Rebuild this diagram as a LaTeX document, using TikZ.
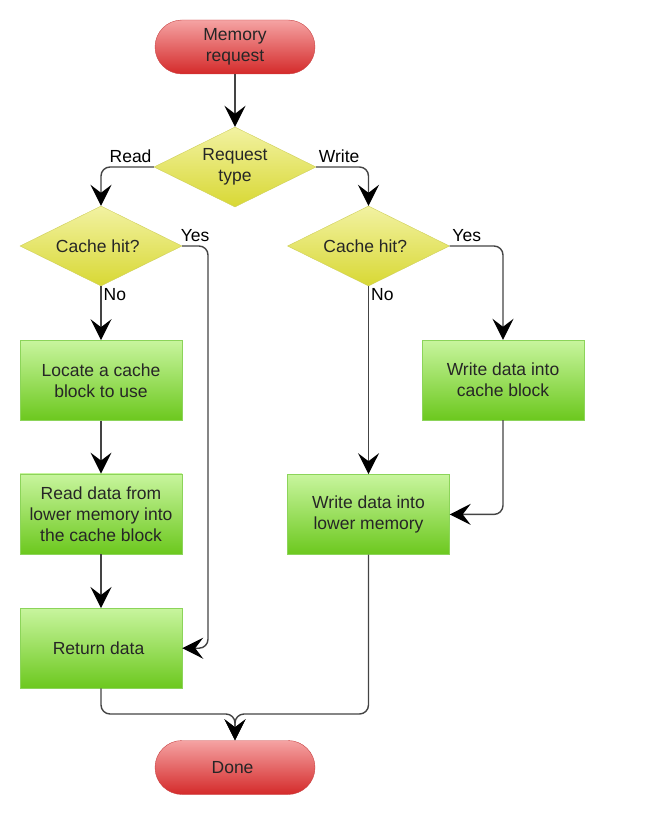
\documentclass[tikz,border=0pt]{standalone}
\usepackage{fontspec}
\setmainfont{Liberation Sans}
\usetikzlibrary{shapes.geometric}
\usetikzlibrary{positioning}
\usetikzlibrary{arrows.meta}

\definecolor{termtop}{HTML}{F5A3A3}
\definecolor{termbot}{HTML}{D42A2A}
\definecolor{termline}{HTML}{C84444}
\definecolor{dectop}{HTML}{F2F2A2}
\definecolor{decbot}{HTML}{D8D834}
\definecolor{decline}{HTML}{CFCF5A}
\definecolor{boxtop}{HTML}{C8F59E}
\definecolor{boxbot}{HTML}{6CC81E}
\definecolor{boxline}{HTML}{8CD45A}
\definecolor{wire}{HTML}{444444}

\begin{document}
\begin{tikzpicture}[
    x=1pt, y=-1pt,
    font=\fontsize{17.5}{21}\selectfont,
    terminal/.style={
        draw=termline,
        top color=termtop,
        bottom color=termbot,
        rounded corners=27pt,
        minimum width=160pt,
        minimum height=54pt,
        inner sep=0pt,
        align=center,
        text=black!85
    },
    decision/.style={
        diamond,
        aspect=2,
        draw=decline,
        top color=dectop,
        bottom color=decbot,
        minimum width=162pt,
        minimum height=80pt,
        inner sep=0pt,
        align=center,
        text=black!85
    },
    box/.style={
        draw=boxline,
        top color=boxtop,
        bottom color=boxbot,
        minimum width=162pt,
        minimum height=80pt,
        inner sep=0pt,
        align=center,
        text=black!85
    },
    arrow/.style={
        -{Stealth[length=21pt,width=21pt,inset=8pt,color=black]},
        draw=wire,
        line width=1.4pt,
        rounded corners=9pt
    }
]

    \useasboundingbox (0,0) rectangle (648,837);

    \node[terminal] (start) at (235,47)
    {
        Memory\\request
    };

    \node[decision] (reqtype) at (235,167)
    {
        Request\\type
    };

    % read side
    \node[decision] (hitL) at (101,246)
    {
        Cache hit?
    };

    \node[box] (locate)
    [below=54pt of hitL]
    {
        Locate a cache\\block to use
    };

    \node[box] (readmem)
    [below=53pt of locate]
    {
        Read data from\\lower memory into\\the cache block
    };

    \node[box] (retdata)
    [below=54pt of readmem]
    {
        Return data
    };

    % write side
    \node[decision] (hitR) at (368.5,246)
    {
        Cache hit?
    };

    \node[box] (wlower)
    [below=188pt of hitR]
    {
        Write data into\\lower memory
    };

    \node[box] (wcache) at (503,380)
    {
        Write data into\\cache block
    };

    \node[terminal] (done) at (235,767.5)
    {
        Done
    };

    \coordinate (yesL) at (208,0);
    \coordinate (merge) at (235,714);

    \draw[arrow] (start) -- (reqtype);

    \draw[arrow]
    (reqtype.west)
        -| node[pos=0.22,above,inner sep=4pt] {Read}
    (hitL.north);

    \draw[arrow]
    (reqtype.east)
        -| node[pos=0.22,above,inner sep=4pt] {Write}
    (hitR.north);

    \draw[arrow]
    (hitL.south)
        -- node[pos=0,below right,inner sep=2pt] {No}
    (locate.north);

    \draw[arrow] (locate) -- (readmem);

    \draw[arrow] (readmem) -- (retdata);

    \draw[arrow]
    (hitL.east)
        -| node[pos=0.25,above,inner sep=4pt] {Yes}
    (yesL |- retdata.east)
        -- (retdata.east);

    \draw[arrow]
    (hitR.south)
        -- node[pos=0,below right,inner sep=2pt] {No}
    (wlower.north);

    \draw[arrow]
    (hitR.east)
        -| node[pos=0.16,above,inner sep=4pt] {Yes}
    (wcache.north);

    \draw[arrow]
    (wcache.south)
        |- (wlower.east);

    \draw[arrow]
    (retdata.south)
        |- (merge)
        -- (done.north);

    \draw[arrow]
    (wlower.south)
        |- (merge)
        -- (done.north);

\end{tikzpicture}
\end{document}
